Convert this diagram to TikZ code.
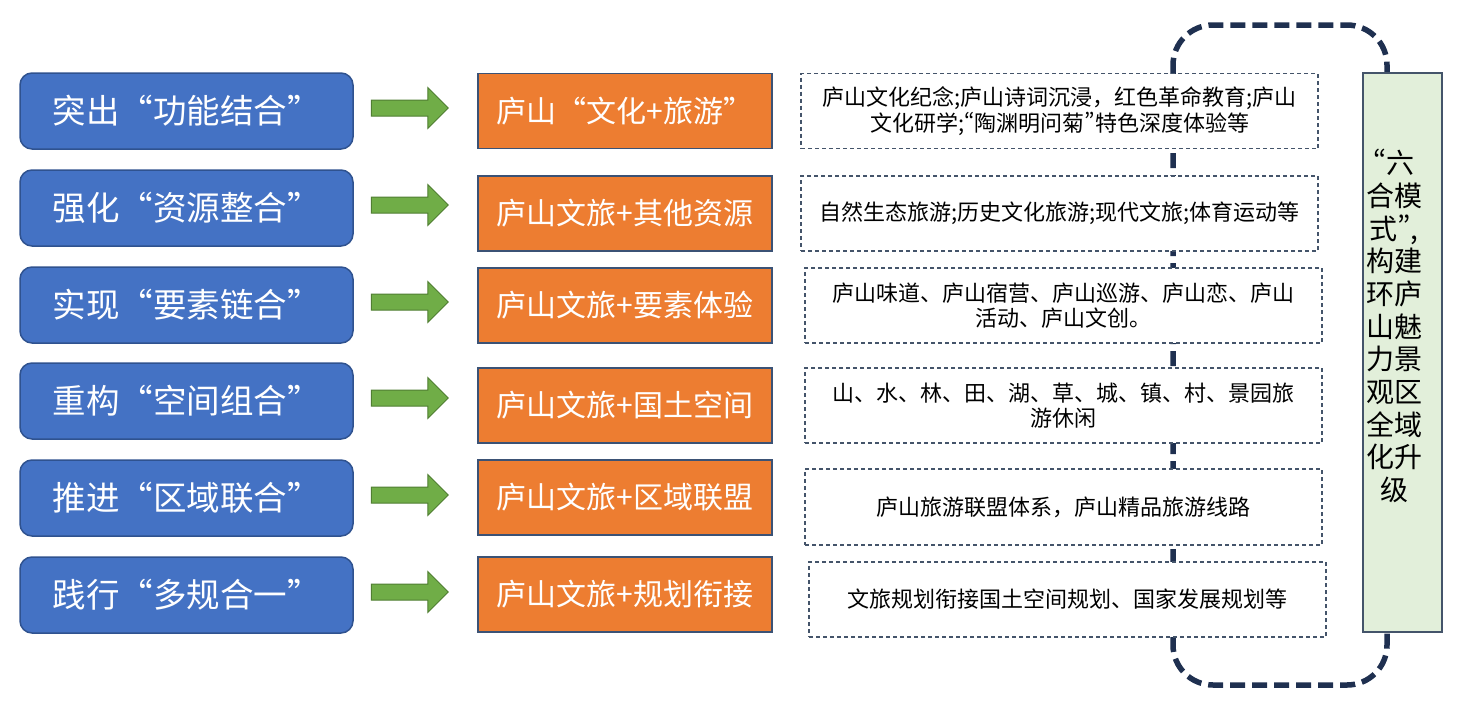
\documentclass[tikz,border=0pt]{standalone}
\usepackage{fontspec}
\usepackage{tikz}
\usetikzlibrary{positioning,shapes.arrows}
\setmainfont{Noto Sans CJK SC}
\newfontfamily\cjkfull[CharacterWidth=Full]{Noto Sans CJK SC}
\newfontfamily\cjkprop[CharacterWidth=Proportional]{Noto Sans CJK SC}
\newcommand{\openq}{{\cjkprop “}}
\newcommand{\closeq}{{\cjkprop ”}}

\definecolor{boxblue}{HTML}{4472C4}
\definecolor{boxblueline}{HTML}{2F528F}
\definecolor{boxorange}{HTML}{ED7D31}
\definecolor{boxorangeline}{HTML}{3B5275}
\definecolor{arrowgreen}{HTML}{70AD47}
\definecolor{arrowgreenline}{HTML}{507E32}
\definecolor{sidegreen}{HTML}{E2EFDA}
\definecolor{slate}{HTML}{44546A}
\definecolor{loopnavy}{HTML}{1F3050}

\tikzset{
  bluebox/.style={draw=boxblueline, line width=1.5pt, fill=boxblue, rounded corners=12pt,
    minimum width=333pt, minimum height=76pt, text=white, inner sep=0pt,
    font=\cjkfull\fontsize{33.5}{38}\selectfont},
  orangebox/.style={draw=boxorangeline, line width=1.5pt, fill=boxorange,
    minimum width=294pt, minimum height=75pt, text=white, inner sep=0pt,
    font=\fontsize{30}{36}\selectfont},
  notebox/.style={draw=slate, line width=1.3pt, dash pattern=on 4pt off 3pt, fill=white,
    minimum width=517pt, minimum height=75pt, align=center, inner sep=0pt,
    font=\fontsize{22}{25.5}\selectfont},
  garrow/.style={single arrow, draw=arrowgreenline, line width=1pt, fill=arrowgreen,
    minimum height=77pt, inner xsep=0pt, inner ysep=7.5pt,
    single arrow head extend=12.5pt, single arrow head indent=0pt},
  loopline/.style={draw=loopnavy, line width=5.5pt, dash pattern=on 15pt off 7pt,
    rounded corners=40pt},
}

\begin{document}
\begin{tikzpicture}[x=1pt,y=-1pt]
\useasboundingbox (0,0) rectangle (1465,718);

% dashed loop behind the right column
\draw[loopline] (1173,25) rectangle (1387,685);

% left column
\node[bluebox] (b1) at (186.5,111) {突出“功能结合”};
\node[bluebox] (b2) at (186.5,208) {强化“资源整合”};
\node[bluebox] (b3) at (186.5,305) {实现“要素链合”};
\node[bluebox] (b4) at (186.5,401) {重构“空间组合”};
\node[bluebox] (b5) at (186.5,498) {推进“区域联合”};
\node[bluebox] (b6) at (186.5,595) {践行“多规合一”};

% middle column
\node[orangebox] (o1) at (625,111) {庐山“文化+旅游”};
\node[orangebox] (o2) at (625,213.5) {庐山文旅+其他资源};
\node[orangebox] (o3) at (625,305.5) {庐山文旅+要素体验};
\node[orangebox] (o4) at (625,405.5) {庐山文旅+国土空间};
\node[orangebox] (o5) at (625,497.5) {庐山文旅+区域联盟};
\node[orangebox] (o6) at (625,594.5) {庐山文旅+规划衔接};

% arrows
\foreach \i in {1,...,6}
  \node[garrow, right=17pt of b\i, yshift=3pt] (a\i) {};

% right column
\node[notebox] (n1) at (1059.5,111) {庐山文化纪念;庐山诗词沉浸，红色革命教育;庐山\\文化研学;\openq 陶渊明问菊\closeq 特色深度体验等};
\node[notebox] (n2) at (1059.5,213.5) {自然生态旅游;历史文化旅游;现代文旅;体育运动等};
\node[notebox] (n3) at (1063.5,305.5) {庐山味道、庐山宿营、庐山巡游、庐山恋、庐山\\活动、庐山文创。};
\node[notebox] (n4) at (1063.5,405.5) {山、水、林、田、湖、草、城、镇、村、景园旅\\游休闲};
\node[notebox, minimum height=76pt] (n5) at (1063.5,507) {庐山旅游联盟体系，庐山精品旅游线路};
\node[notebox] (n6) at (1067.5,599.5) {文旅规划衔接国土空间规划、国家发展规划等};

% summary box
\node[draw=slate, line width=1.3pt, fill=sidegreen, minimum width=79pt, minimum height=559pt]
  (g) at (1402.5,352.5) {};
\node[align=center, inner sep=0pt, font=\fontsize{28}{32.7}\selectfont]
  (gt) at (1394,326) {\openq 六\\合模\\式\closeq ,\\构建\\环庐\\山魅\\力景\\观区\\全域\\化升\\级};
\end{tikzpicture}
\end{document}
